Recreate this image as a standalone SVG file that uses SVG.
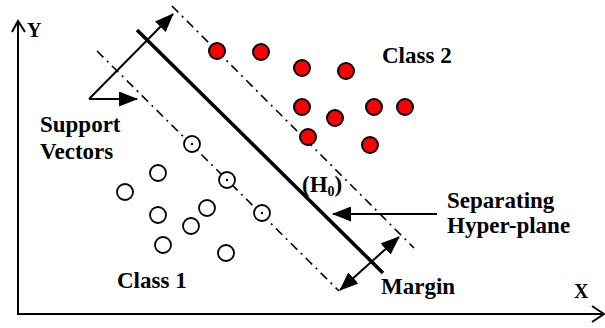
<svg xmlns="http://www.w3.org/2000/svg" width="605" height="328" viewBox="0 0 605 328">
<style>
text{font-family:"Liberation Serif","Times New Roman",serif;font-weight:bold;fill:#000}
.lbl{font-size:23px}
.ax{font-size:20px}
.axis{stroke:#000;stroke-width:2;fill:none}
.dd{stroke:#000;stroke-width:1.6;fill:none;stroke-dasharray:9 5 2 5}
.thick{stroke:#000;stroke-width:3.6;fill:none}
.arr{stroke:#000;stroke-width:2;fill:none}
.red{fill:#ff0000;stroke:#000;stroke-width:2}
.open{fill:#fff;stroke:#000;stroke-width:1.8}
</style>
<defs>
<marker id="ah" viewBox="0 0 19 15" refX="18" refY="7.5" markerWidth="19" markerHeight="15" markerUnits="userSpaceOnUse" orient="auto-start-reverse">
<path d="M0,0 L19,7.5 L0,15 z" fill="#000"/>
</marker>
</defs>
<rect width="605" height="328" fill="#fff"/>
<g id="axes">
<line class="axis" x1="18" y1="21" x2="18" y2="315"/>
<polyline class="axis" points="12,32 18,21 25,32"/>
<line class="axis" x1="17" y1="314" x2="604" y2="314"/>
<polyline class="axis" points="592,306 604,314 592,322"/>
<text class="ax" x="27" y="37">Y</text>
<text class="ax" x="574" y="298">X</text>
</g>
<g id="lines">
<line class="dd" x1="172" y1="6" x2="414" y2="248"/>
<line class="dd" x1="97" y1="51" x2="339" y2="291"/>
<line class="thick" x1="137" y1="30" x2="383" y2="273"/>
</g>
<g id="class2">
<g id="r1"><circle class="red" cx="217" cy="51" r="8"/></g>
<g id="r2"><circle class="red" cx="261" cy="52" r="8"/></g>
<g id="r3"><circle class="red" cx="302" cy="68" r="8"/></g>
<g id="r4"><circle class="red" cx="346" cy="71" r="8"/></g>
<g id="r5"><circle class="red" cx="302" cy="107" r="8"/></g>
<g id="r6"><circle class="red" cx="335" cy="118" r="8"/></g>
<g id="r7"><circle class="red" cx="374" cy="107" r="8"/></g>
<g id="r8"><circle class="red" cx="405" cy="107" r="8"/></g>
<g id="r9"><circle class="red" cx="308" cy="137" r="8"/></g>
<g id="r10"><circle class="red" cx="370" cy="145" r="8"/></g>
</g>
<g id="class1">
<g id="c1"><circle class="open" cx="158" cy="173" r="8"/></g>
<g id="c2"><circle class="open" cx="125" cy="192" r="8"/></g>
<g id="c3"><circle class="open" cx="158" cy="215" r="8"/></g>
<g id="c4"><circle class="open" cx="207" cy="208" r="8"/></g>
<g id="c5"><circle class="open" cx="191" cy="226" r="8"/></g>
<g id="c6"><circle class="open" cx="163" cy="245" r="8"/></g>
<g id="c7"><circle class="open" cx="226" cy="253" r="8"/></g>
<g id="sv1"><circle class="open" cx="192" cy="144" r="8"/><circle cx="192" cy="144" r="1.2" fill="#000"/></g>
<g id="sv2"><circle class="open" cx="227" cy="180" r="8"/><circle cx="227" cy="180" r="1.2" fill="#000"/></g>
<g id="sv3"><circle class="open" cx="262" cy="213" r="8"/><circle cx="262" cy="213" r="1.2" fill="#000"/></g>
</g>
<g id="connectors">
<line class="arr" x1="89" y1="99" x2="173" y2="14" marker-end="url(#ah)"/>
<line class="arr" x1="89" y1="99" x2="137" y2="99" marker-end="url(#ah)"/>
<line class="arr" x1="437" y1="214" x2="333" y2="214" marker-end="url(#ah)"/>
<line class="arr" x1="340" y1="290" x2="399" y2="237" marker-start="url(#ah)" marker-end="url(#ah)"/>
</g>
<g id="labels">
<text class="lbl" x="40" y="132">Support</text>
<text class="lbl" x="40" y="159">Vectors</text>
<text class="lbl" x="382" y="63">Class 2</text>
<text class="lbl" x="117" y="288">Class 1</text>
<text class="lbl" x="447" y="208">Separating</text>
<text class="lbl" x="447" y="233">Hyper-plane</text>
<text class="lbl" x="381" y="294">Margin</text>
<text class="lbl" x="302" y="192" font-size="21">(H<tspan font-size="14" dy="4">0</tspan><tspan dy="-4">)</tspan></text>
</g>
</svg>
